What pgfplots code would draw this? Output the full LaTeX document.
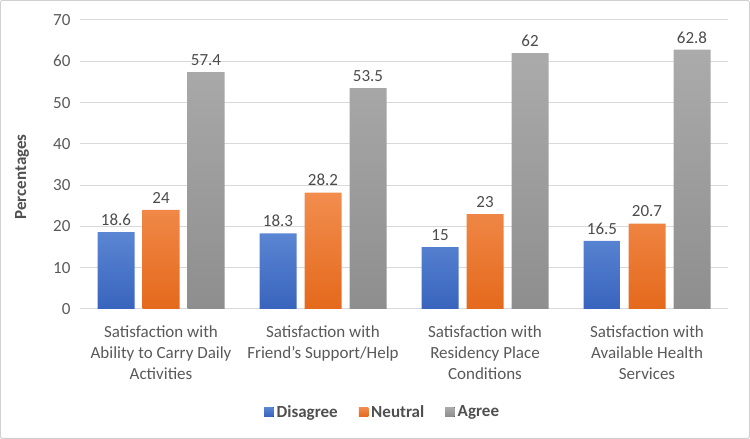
\documentclass[border=0pt]{standalone}
\usepackage{pgfplots}
\pgfplotsset{compat=1.18}
\usepackage{fontspec}
\setmainfont{Carlito}

\definecolor{txt}{HTML}{595959}
\definecolor{gridc}{HTML}{D9D9D9}
\definecolor{frame}{HTML}{D0D0D0}
\definecolor{blueT}{HTML}{5B86D3}
\definecolor{blueB}{HTML}{3864BD}
\definecolor{orT}{HTML}{F28D4E}
\definecolor{orB}{HTML}{E4691C}
\definecolor{grT}{HTML}{ABABAB}
\definecolor{grB}{HTML}{8E8E8E}

\pgfplotstableread{
x disagree neutral agree
0 18.6 24   57.4
1 18.3 28.2 53.5
2 15   23   62
3 16.5 20.7 62.8
}\satdata

\begin{document}
\begin{tikzpicture}[x=1bp,y=1bp]
\draw[frame, line width=1bp, rounded corners=2bp] (0.5,0.5) rectangle (749.5,438.5);
\path[use as bounding box] (0,0) rectangle (750,439);
\begin{axis}[
  at={(80bp,130bp)}, anchor=south west,
  scale only axis, width=648bp, height=289bp,
  ybar=8bp, bar width=37bp,
  xmin=-0.5, xmax=3.5, ymin=0, ymax=70,
  ytick={0,10,...,70},
  xtick=data,
  xticklabels={{Satisfaction with\\Ability to Carry Daily\\Activities},
               {Satisfaction with\\Friend's Support/Help},
               {Satisfaction with\\Residency Place\\Conditions},
               {Satisfaction with\\Available Health\\Services}},
  x tick label style={align=center, font=\fontsize{17bp}{21bp}\selectfont, text=txt, yshift=-13bp},
  y tick label style={font=\fontsize{17bp}{20bp}\selectfont, text=txt, xshift=-6bp},
  /pgf/number format/assume math mode=true,
  major tick length=0pt,
  axis line style={draw=none},
  ymajorgrids, grid style={gridc, line width=1bp},
  ylabel={\textbf{Percentages}},
  every axis y label/.style={at={(rel axis cs:0,0.457)}, xshift=-58bp, rotate=90, anchor=center, font=\fontsize{17bp}{20bp}\selectfont, text=txt!90!black},
  nodes near coords,
  every node near coord/.append style={font=\fontsize{17bp}{20bp}\selectfont, text=txt!85!black, yshift=3bp},
  legend style={at={(0.467,-0.356)}, anchor=center, draw=none, legend columns=-1,
    font=\bfseries\fontsize{17bp}{20bp}\selectfont, text=txt!90!black,
    /tikz/every odd column/.append style={column sep=1bp},
    /tikz/every even column/.append style={column sep=19bp}},
  legend image code/.code={\fill[#1] (0bp,-4.7bp) rectangle (9.5bp,4.7bp);},
]
\addplot[draw=none, top color=blueT, bottom color=blueB] table[x=x, y=disagree] {\satdata};
\addplot[draw=none, top color=orT, bottom color=orB] table[x=x, y=neutral] {\satdata};
\addplot[draw=none, top color=grT, bottom color=grB] table[x=x, y=agree] {\satdata};
\legend{Disagree, Neutral, Agree}
\end{axis}
\end{tikzpicture}
\end{document}
